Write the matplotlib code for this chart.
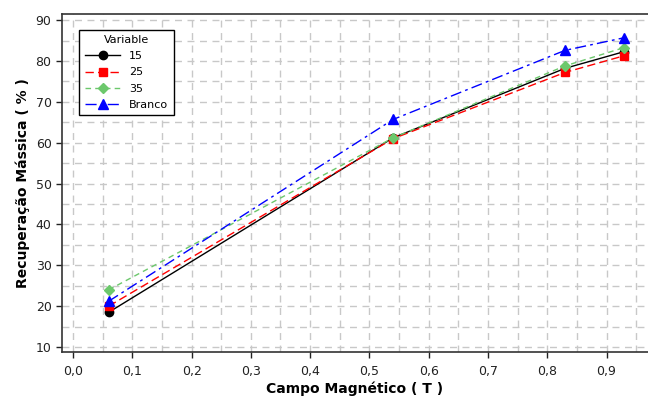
import matplotlib.pyplot as plt
from matplotlib.ticker import MultipleLocator, FuncFormatter

# campo magnético (T) e recuperação mássica (%) por série
campo = [0.06, 0.54, 0.83, 0.93]
rec_15 = [18.5, 61.2, 78.2, 82.3]
rec_25 = [20.0, 61.0, 77.2, 81.3]
rec_35 = [24.0, 61.2, 78.8, 83.3]
rec_branco = [21.2, 65.7, 82.6, 85.7]

plt.rcParams['font.family'] = ['DejaVu Sans']

fig = plt.figure(figsize=(6.48, 3.96), dpi=100)
ax = fig.add_axes([62/648, 1-352/396, (648-62)/648, (352-14)/396])

ax.plot(campo, rec_15, color='black', lw=1, ls='-', marker='o', ms=6, label='15')
ax.plot(campo, rec_25, color='red', lw=1, ls=(0, (6, 3)), marker='s', ms=6, label='25')
ax.plot(campo, rec_35, color='#6cc86c', lw=1, ls=(0, (4, 3)), marker='D', ms=5.5, label='35')
ax.plot(campo, rec_branco, color='blue', lw=1, ls=(0, (8, 3, 2, 3)), marker='^', ms=7, label='Branco')

ax.set_xlim(-0.0186, 0.97)
ax.set_ylim(8.8, 91.5)
ax.xaxis.set_major_locator(MultipleLocator(0.1))
ax.xaxis.set_minor_locator(MultipleLocator(0.05))
ax.yaxis.set_major_locator(MultipleLocator(10))
ax.yaxis.set_minor_locator(MultipleLocator(5))
ax.xaxis.set_major_formatter(FuncFormatter(lambda v, p: f'{v:.1f}'.replace('.', ',')))

ax.grid(which='both', color='#c8c8c8', ls=(0, (5, 4)), lw=1)
ax.set_axisbelow(True)
ax.tick_params(which='major', direction='out', length=4, width=1, labelsize=9, colors='#222222')
ax.tick_params(which='minor', length=0)
ax.tick_params(axis='x', pad=5)

for side in ['left', 'bottom', 'top']:
    ax.spines[side].set_color('#333333')
    ax.spines[side].set_linewidth(1.2)
ax.spines['right'].set_visible(False)

ax.set_xlabel('Campo Magnético ( T )', fontsize=10, fontweight='bold', labelpad=3)
ax.set_ylabel('Recuperação Mássica ( % )', fontsize=10, fontweight='bold', labelpad=4)

leg = ax.legend(title='Variable', loc='upper left', bbox_to_anchor=(0.02, 0.97),
                fontsize=8, title_fontsize=8, fancybox=False, edgecolor='black',
                framealpha=1, handlelength=3.2, borderpad=0.5, labelspacing=0.55)
leg.get_frame().set_linewidth(1)
leg._legend_box.align = 'center'

fig.savefig('out.png', dpi=100)
